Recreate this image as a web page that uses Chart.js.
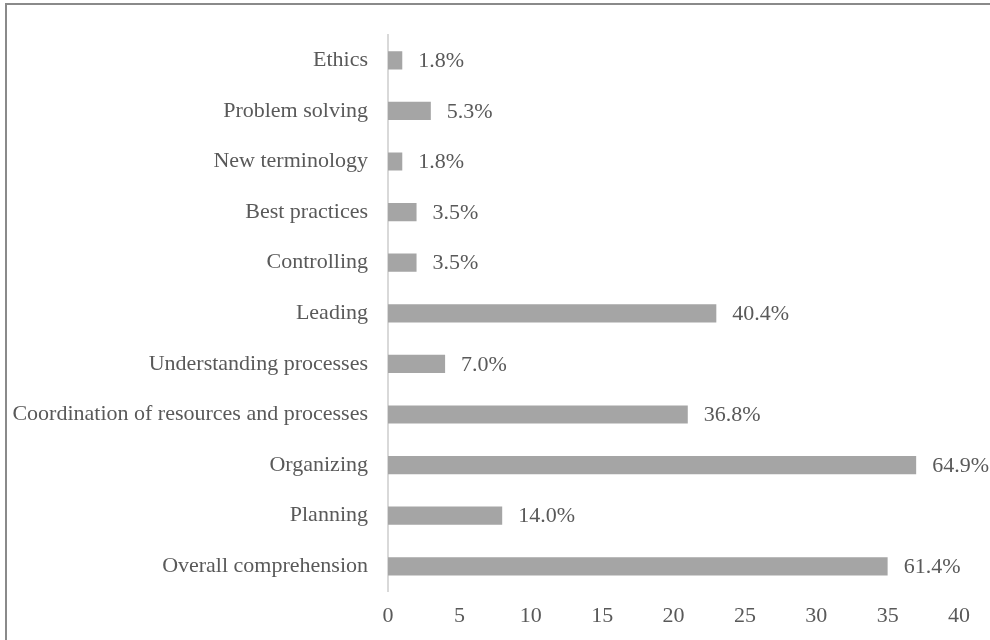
<!DOCTYPE html>
<html>
<head>
<meta charset="utf-8">
<script src="https://cdn.jsdelivr.net/npm/chart.js@4/dist/chart.umd.min.js"></script>
<style>
    html, body { margin: 0; padding: 0; background: #fff; }
    .frame {
        position: absolute;
        left: 5px;
        top: 3px;
        width: 985px;
        height: 637px;
        border-top: 2px solid #8a8a8a;
        border-left: 2px solid #8a8a8a;
        box-sizing: border-box;
    }
    .frame canvas { display: block; }
</style>
</head>
<body>
<div class="frame">
    <canvas id="skillChart" width="983" height="635"></canvas>
</div>
<script>
// Categories (top to bottom)
const categories = [
    "Ethics",
    "Problem solving",
    "New terminology",
    "Best practices",
    "Controlling",
    "Leading",
    "Understanding processes",
    "Coordination of resources and processes",
    "Organizing",
    "Planning",
    "Overall comprehension"
];

// Number of responses
const counts = [1, 3, 1, 2, 2, 23, 4, 21, 37, 8, 35];

// Percent labels written next to each bar
const percentLabels = ["1.8%", "5.3%", "1.8%", "3.5%", "3.5%", "40.4%", "7.0%", "36.8%", "64.9%", "14.0%", "61.4%"];

// x axis ticks
const xTicks = [0, 5, 10, 15, 20, 25, 30, 35, 40];

const fontFamily = "'Liberation Serif', 'Times New Roman', serif";
const textColor = "#595959";

// ve nhan % ben phai moi thanh
const valueLabels = {
    id: "valueLabels",
    afterDatasetsDraw(chart) {
        const ctx = chart.ctx;
        const meta = chart.getDatasetMeta(0);
        ctx.save();
        ctx.font = `22px ${fontFamily}`;
        ctx.fillStyle = textColor;
        ctx.textAlign = "left";
        ctx.textBaseline = "middle";
        meta.data.forEach((bar, i) => {
            ctx.fillText(percentLabels[i], bar.x + 16, bar.y + 1);
        });
        ctx.restore();
    }
};

new Chart(document.getElementById("skillChart"), {
    type: "bar",
    data: {
        labels: categories,
        datasets: [{
            data: counts,
            backgroundColor: "#a5a5a5",
            categoryPercentage: 1,
            barPercentage: 0.36
        }]
    },
    plugins: [valueLabels],
    options: {
        indexAxis: "y",
        responsive: false,
        animation: false,
        layout: {
            padding: { left: 0, right: 31, top: 30, bottom: 0 }
        },
        plugins: {
            legend: { display: false },
            tooltip: { enabled: false }
        },
        scales: {
            x: {
                min: xTicks[0],
                max: xTicks[xTicks.length - 1],
                afterBuildTicks: (scale) => {
                    scale.ticks = xTicks.map(v => ({ value: v }));
                },
                grid: { display: false, drawTicks: false },
                border: { display: false },
                ticks: {
                    color: textColor,
                    font: { family: fontFamily, size: 22 },
                    padding: 11
                }
            },
            y: {
                afterFit: (scale) => {
                    scale.width = 381;
                    scale.paddingTop = 0;
                    scale.paddingBottom = 0;
                },
                grid: { display: false, drawTicks: false },
                border: { display: true, color: "#d9d9d9", width: 2 },
                ticks: {
                    color: textColor,
                    font: { family: fontFamily, size: 22 },
                    padding: 20
                }
            }
        }
    }
});
</script>
</body>
</html>
